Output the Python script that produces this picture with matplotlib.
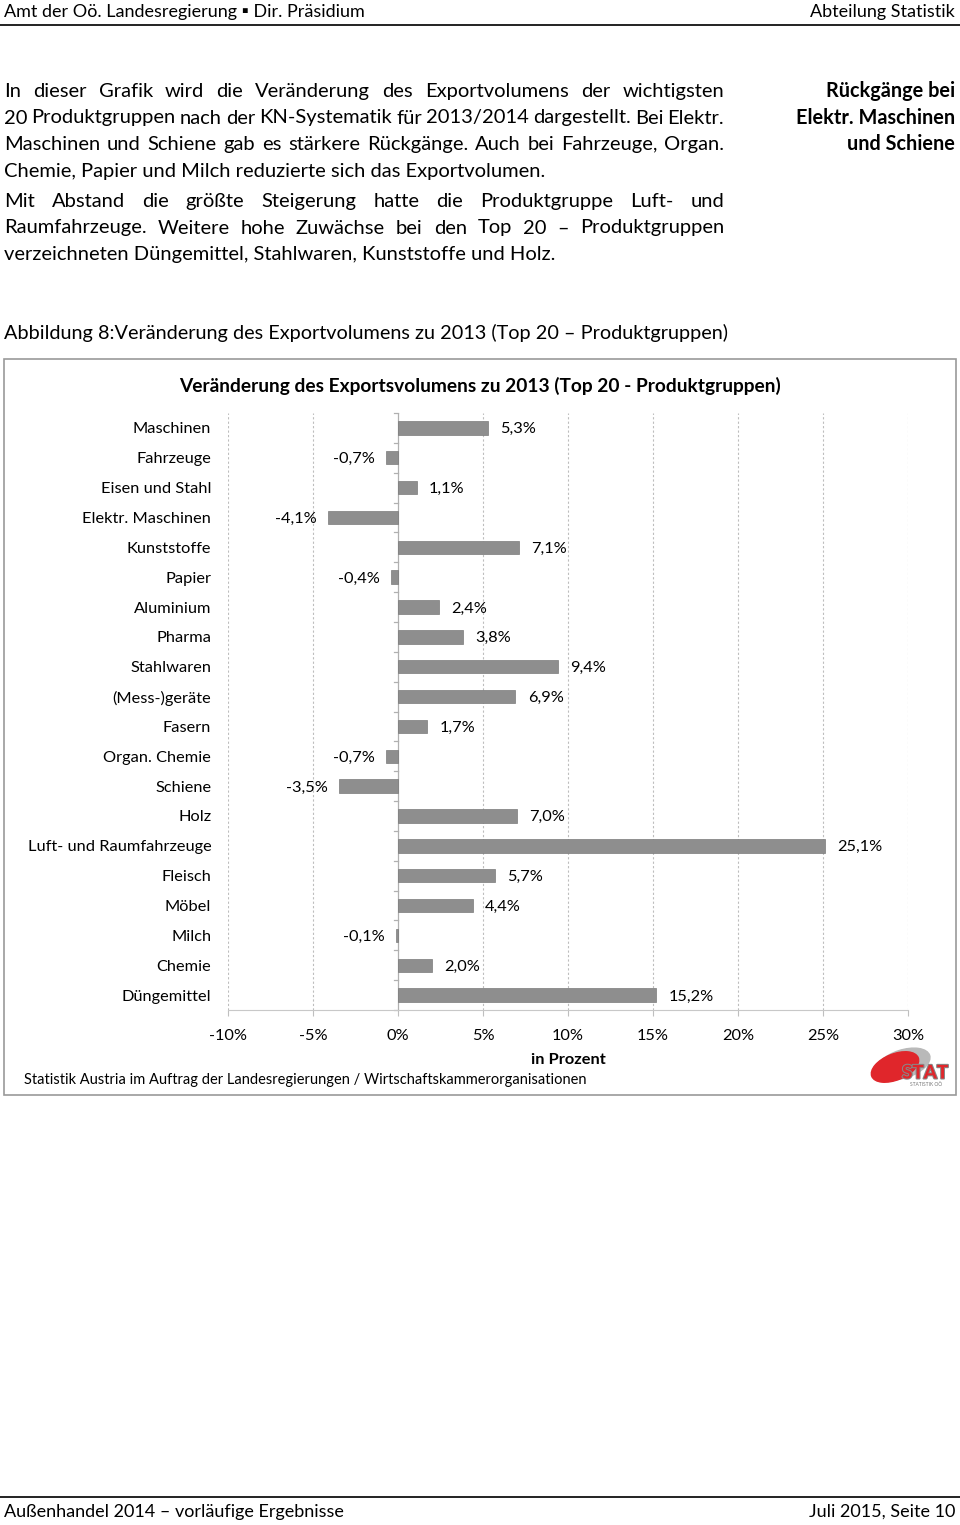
import matplotlib
import matplotlib.pyplot as plt
import matplotlib.patheffects as pe
from matplotlib.patches import Rectangle, Ellipse
from matplotlib.lines import Line2D
matplotlib.use('Agg')

plt.rcParams['font.family'] = ['Lato', 'DejaVu Sans']

W, H = 960, 1525

categories = ['Maschinen', 'Fahrzeuge', 'Eisen und Stahl', 'Elektr. Maschinen',
              'Kunststoffe', 'Papier', 'Aluminium', 'Pharma', 'Stahlwaren',
              '(Mess-)geräte', 'Fasern', 'Organ. Chemie', 'Schiene', 'Holz',
              'Luft- und Raumfahrzeuge', 'Fleisch', 'Möbel', 'Milch', 'Chemie',
              'Düngemittel']
values = [5.3, -0.7, 1.1, -4.1, 7.1, -0.4, 2.4, 3.8, 9.4, 6.9, 1.7, -0.7,
          -3.5, 7.0, 25.1, 5.7, 4.4, -0.1, 2.0, 15.2]
xticks = [-10, -5, 0, 5, 10, 15, 20, 25, 30]

para1 = ['In dieser Grafik wird die Veränderung des Exportvolumens der wichtigsten',
         '20 Produktgruppen nach der KN-Systematik für 2013/2014 dargestellt. Bei Elektr.',
         'Maschinen und Schiene gab es stärkere Rückgänge. Auch bei Fahrzeuge, Organ.',
         'Chemie, Papier und Milch reduzierte sich das Exportvolumen.']
para2 = ['Mit Abstand die größte Steigerung hatte die Produktgruppe Luft- und',
         'Raumfahrzeuge. Weitere hohe Zuwächse bei den Top 20 – Produktgruppen',
         'verzeichneten Düngemittel, Stahlwaren, Kunststoffe und Holz.']
side_note = ['Rückgänge bei', 'Elektr. Maschinen', 'und Schiene']

PSIZE = 14.5


def fy(y):
    return 1 - y / H


def fx(x):
    return x / W


fig = plt.figure(figsize=(W / 100, H / 100), dpi=100)
renderer = fig.canvas.get_renderer()

# page header / footer
fig.text(fx(4), fy(12), 'Amt der Oö. Landesregierung ▪ Dir. Präsidium',
         fontsize=13, va='center', ha='left')
fig.text(fx(955), fy(12), 'Abteilung Statistik', fontsize=13, va='center', ha='right')
fig.add_artist(Line2D([0, 1], [fy(25), fy(25)], color='#222222', lw=1.4))
fig.add_artist(Line2D([0, 1], [fy(1497), fy(1497)], color='#222222', lw=1.4))
fig.text(fx(4), fy(1512), 'Außenhandel 2014 – vorläufige Ergebnisse',
         fontsize=13, va='center', ha='left')
fig.text(fx(955), fy(1512), 'Juli 2015, Seite 10', fontsize=13, va='center', ha='right')


def justified(line, y, left=4, right=724, size=PSIZE):
    words = line.split(' ')
    texts = [fig.text(0, fy(y), w, fontsize=size, va='baseline', ha='left') for w in words]
    widths = [t.get_window_extent(renderer).width for t in texts]
    gap = (right - left - sum(widths)) / (len(words) - 1)
    x = left
    for t, w in zip(texts, widths):
        t.set_x(fx(x))
        x += w + gap


def paragraph(lines, y0, step=26.5):
    for i, line in enumerate(lines):
        y = y0 + i * step
        if i < len(lines) - 1:
            justified(line, y)
        else:
            fig.text(fx(4), fy(y), line, fontsize=PSIZE, va='baseline', ha='left')


paragraph(para1, 97)
paragraph(para2, 207)
for i, s in enumerate(side_note):
    fig.text(fx(955), fy(97 + i * 26.5), s, fontsize=14.3, fontweight='bold',
             va='baseline', ha='right')

fig.text(fx(4), fy(333), 'Abbildung 8:Veränderung des Exportvolumens zu 2013 (Top 20 – Produktgruppen)',
         fontsize=14.3, va='center', ha='left')

# chart frame
fig.add_artist(Rectangle((fx(4), fy(1095)), fx(952), (1095 - 359) / H,
                         transform=fig.transFigure, fill=False,
                         edgecolor='#9a9a9a', lw=1.2))
fig.text(fx(480), fy(386), 'Veränderung des Exportsvolumens zu 2013 (Top 20 - Produktgruppen)',
         fontsize=13.8, fontweight='bold', va='center', ha='center')

ax = fig.add_axes([fx(228), fy(1010), (908 - 228) / W, (1010 - 413) / H])
ypos = list(range(len(categories)))
ax.barh(ypos, values, height=0.45, color='#8e8e8e', edgecolor='#7a7a7a', lw=0.5, zorder=3)
ax.set_xlim(-10, 30)
ax.set_ylim(len(categories) - 0.5, -0.5)
ax.set_xticks(xticks)
ax.set_xticklabels([f'{t}%' for t in xticks], fontsize=11.8)
ax.set_yticks(ypos)
ax.set_yticklabels(categories, fontsize=11.8)
ax.tick_params(axis='y', length=0, pad=12)
ax.tick_params(axis='x', length=4, width=0.8, color='#bfbfbf', pad=10)
for s in ['top', 'right', 'left']:
    ax.spines[s].set_visible(False)
ax.spines['bottom'].set_color('#c8c8c8')
for t in xticks:
    if t != 0:
        ax.axvline(t, color='#bdbdbd', lw=0.8, ls=(0, (2, 2)), zorder=1)
ax.axvline(0, color='#b0b0b0', lw=0.9, zorder=2)
for b in range(len(categories) + 1):
    ax.plot([-0.25, 0], [b - 0.5, b - 0.5], color='#b0b0b0', lw=0.9, zorder=2,
            clip_on=False)

for y, v in zip(ypos, values):
    lab = f'{v:.1f}%'.replace('.', ',')
    if v >= 0:
        ax.annotate(lab, (v, y), xytext=(9, -1), textcoords='offset points',
                    ha='left', va='center', fontsize=11.8)
    else:
        ax.annotate(lab, (v, y), xytext=(-8, -1), textcoords='offset points',
                    ha='right', va='center', fontsize=11.8)

fig.text(fx(568), fy(1060), 'in Prozent', fontsize=11.8, fontweight='bold',
         va='center', ha='center')
fig.text(fx(24), fy(1080),
         'Statistik Austria im Auftrag der Landesregierungen / Wirtschaftskammerorganisationen',
         fontsize=10.5, va='center', ha='left')

# STAT logo
lax = fig.add_axes([fx(868), fy(1091), 84 / W, 44 / H])
lax.set_xlim(0, 84)
lax.set_ylim(44, 0)
lax.axis('off')
lax.add_patch(Ellipse((35, 17), 56, 28, angle=-18, color='#b9b9b9'))
lax.add_patch(Ellipse((27, 20), 50, 26, angle=-22, color='#e0262b'))
lax.text(57, 26, 'STAT', fontsize=13.5, fontweight='black', color='#e0262b',
         ha='center', va='center',
         path_effects=[pe.withStroke(linewidth=1.5, foreground='#888888')])
lax.text(58, 38, 'STATISTIK OÖ', fontsize=3.5, color='#777777', ha='center', va='center')

fig.savefig('out.png', dpi=100)
